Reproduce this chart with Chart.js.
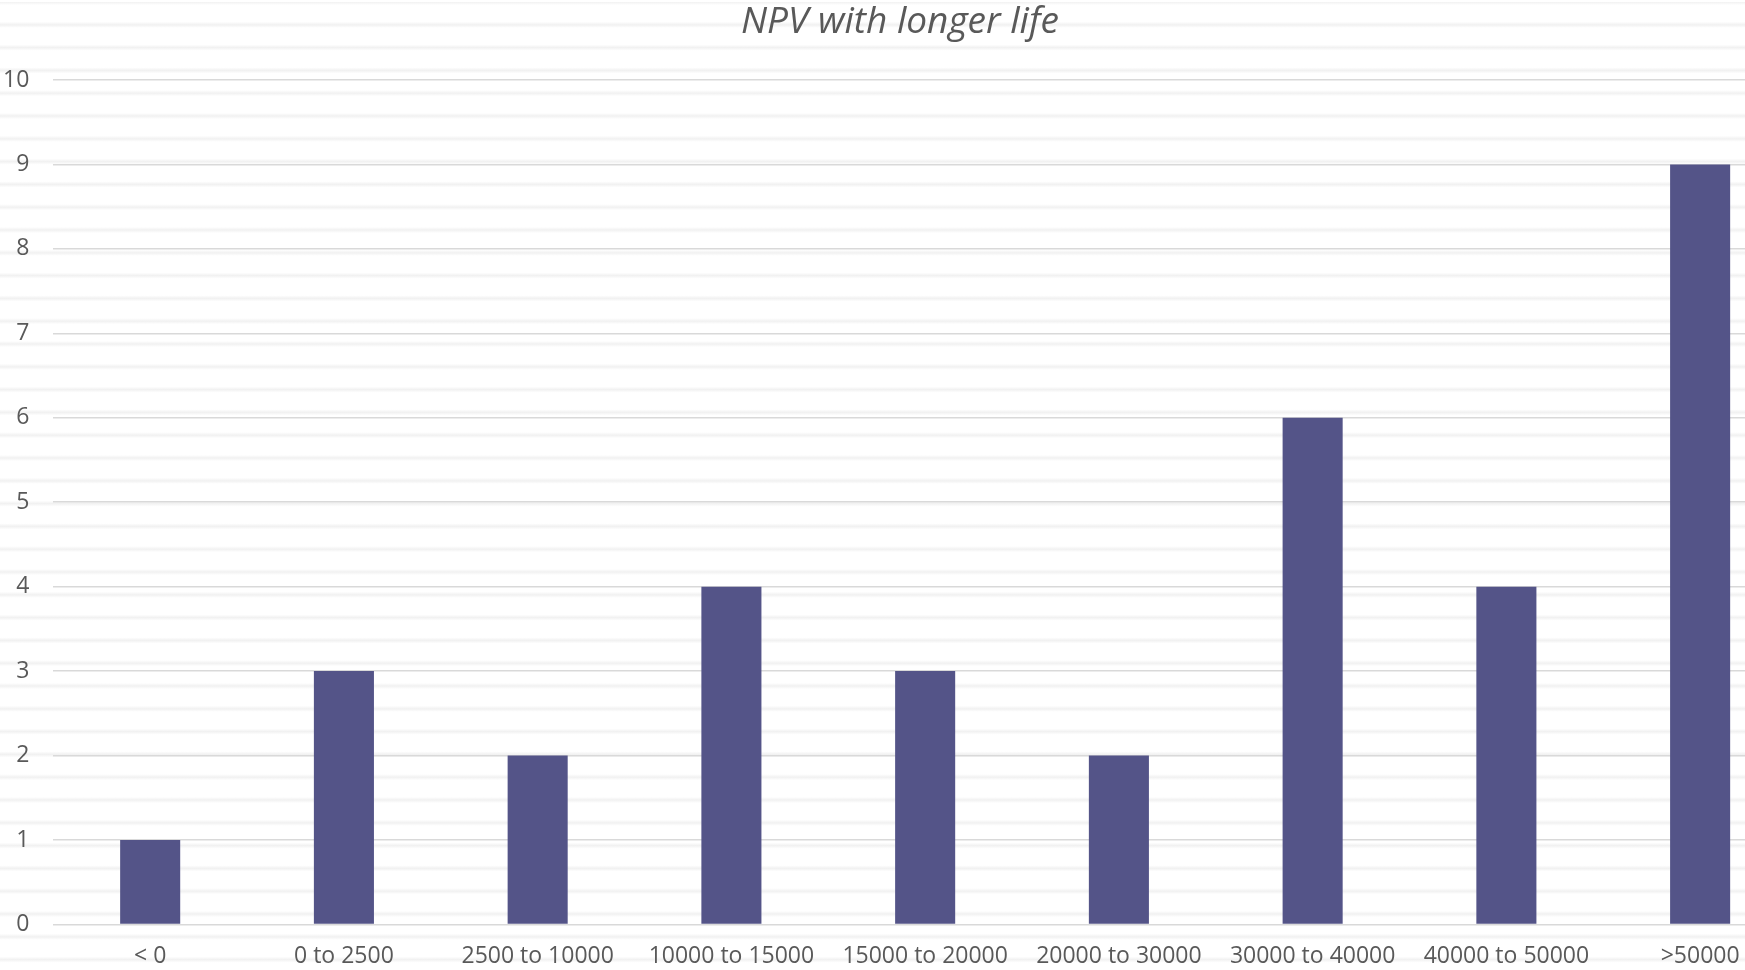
<!DOCTYPE html>
<html>
<head>
<meta charset="utf-8">
<script src="https://cdn.jsdelivr.net/npm/chart.js@4/dist/chart.umd.min.js"></script>
<style>
  html, body { margin: 0; padding: 0; overflow: hidden; background: #ffffff; }
  #wrap {
    position: relative;
    width: 1810px;
    height: 970px;
    /* light horizontal pattern fill behind the plot */
    background: repeating-linear-gradient(to bottom,
      #f1f1f1 0px, #ffffff 3px, #ffffff 19.8px, #f1f1f1 22.8px);
    background-position: 0 2px;
  }
</style>
</head>
<body>
<div id="wrap"><canvas id="chart"></canvas></div>
<script>
const categories = ['< 0', '0 to 2500', '2500 to 10000', '10000 to 15000', '15000 to 20000',
                    '20000 to 30000', '30000 to 40000', '40000 to 50000', '>50000'];
const counts = [1, 3, 2, 4, 3, 2, 6, 4, 9];
const yTicks = [0, 1, 2, 3, 4, 5, 6, 7, 8, 9, 10];

const textColor = '#595959';
const font = 'Open Sans';

new Chart(document.getElementById('chart'), {
  type: 'bar',
  data: {
    labels: categories,
    datasets: [{
      data: counts,
      backgroundColor: '#545488',
      borderWidth: 0,
      barPercentage: 0.31,
      categoryPercentage: 1.0
    }]
  },
  options: {
    responsive: true,
    maintainAspectRatio: false,
    animation: false,
    layout: { padding: { left: 3, right: 13, top: 0, bottom: -18 } },
    plugins: {
      legend: { display: false },
      tooltip: { enabled: false },
      title: {
        display: true,
        text: 'NPV with longer life',
        color: textColor,
        font: { family: font, size: 37, style: 'italic', weight: 'normal', lineHeight: 1.2 },
        padding: { top: 0, bottom: 35.6 }
      }
    },
    scales: {
      x: {
        grid: { display: false, drawTicks: false },
        border: { display: false },
        ticks: {
          color: textColor,
          font: { family: font, size: 23 },
          padding: 18,
          maxRotation: 0,
          autoSkip: false
        }
      },
      y: {
        min: yTicks[0],
        max: yTicks[yTicks.length - 1],
        afterBuildTicks: (axis) => { axis.ticks = yTicks.map(v => ({ value: v })); },
        // invisible tick marks keep the labels clear of the gridlines
        grid: { color: '#d9d9d9', lineWidth: 1.5, drawTicks: true, tickLength: 24, tickColor: 'rgba(0,0,0,0)' },
        border: { display: false },
        ticks: {
          color: textColor,
          font: { family: font, size: 23 },
          padding: 0
        }
      }
    }
  }
});
</script>
</body>
</html>
